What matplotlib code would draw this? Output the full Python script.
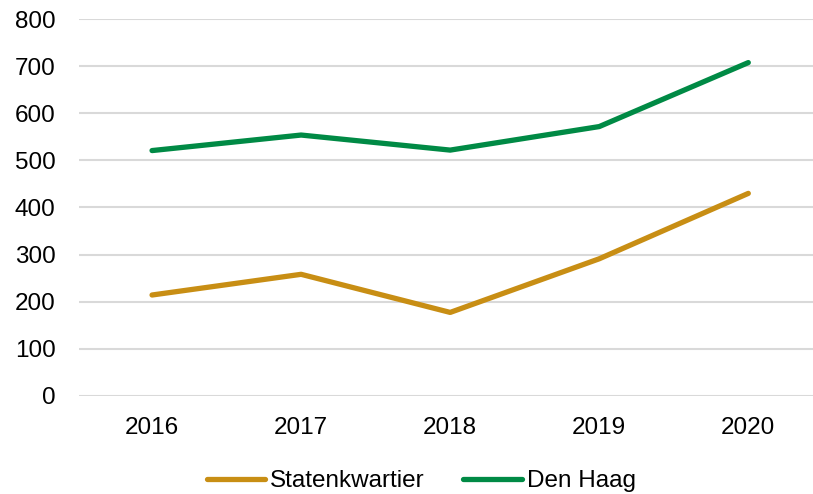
import matplotlib
matplotlib.use("Agg")
import matplotlib.pyplot as plt

years = ["2016", "2017", "2018", "2019", "2020"]
statenkwartier = [214, 258, 177, 291, 430]
den_haag = [521, 554, 522, 572, 708]
yticks = [0, 100, 200, 300, 400, 500, 600, 700, 800]

plt.rcParams['font.family'] = ['Liberation Sans', 'DejaVu Sans']

fig = plt.figure(figsize=(8.13, 4.94), dpi=100)
ax = fig.add_axes([79/813, 98.3/494, 1 - 79/813, 376.4/494])

x = list(range(len(years)))
ax.plot(x, statenkwartier, color="#C88E14", lw=3.8, solid_capstyle="round", label="Statenkwartier", zorder=3)
ax.plot(x, den_haag, color="#008A45", lw=3.8, solid_capstyle="round", label="Den Haag", zorder=3)

ax.set_xlim(-0.49, 4.434)
ax.set_ylim(0, 800)
ax.set_yticks(yticks)
ax.set_yticklabels([str(v) for v in yticks])
ax.set_xticks(x)
ax.set_xticklabels(years)
ax.grid(axis="y", color="#D9D9D9", lw=1.5, zorder=0)
ax.set_axisbelow(True)
for s in ax.spines.values():
    s.set_visible(False)
ax.tick_params(axis="both", length=0, labelsize=17.5, colors="#000000")
ax.tick_params(axis="y", pad=17)
ax.tick_params(axis="x", pad=15)

fig.legend(loc="center", bbox_to_anchor=(0.518, 0.026), ncol=2, frameon=False,
           fontsize=17.5, handlelength=2.4, handletextpad=0.2, columnspacing=1.6)

fig.savefig("out.png", dpi=100)
